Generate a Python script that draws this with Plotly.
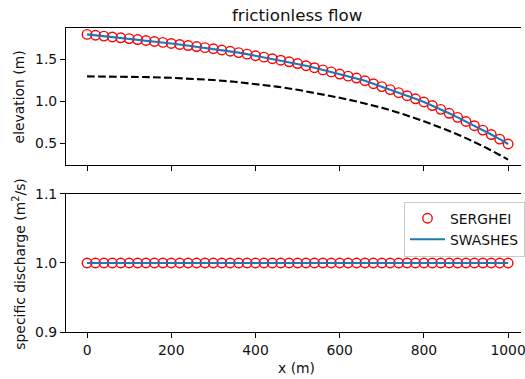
import plotly.graph_objects as go

# ---- data ----
x_pts = [0, 20, 40, 60, 80, 100, 120, 140, 160, 180, 200, 220, 240, 260, 280, 300,
         320, 340, 360, 380, 400, 420, 440, 460, 480, 500, 520, 540, 560, 580, 600,
         620, 640, 660, 680, 700, 720, 740, 760, 780, 800, 820, 840, 860, 880, 900,
         920, 940, 960, 980, 1000]

serghei_elev = [1.795, 1.785, 1.775, 1.765, 1.755, 1.745, 1.734, 1.723, 1.711, 1.700,
                1.688, 1.676, 1.663, 1.651, 1.638, 1.625, 1.610, 1.595, 1.579, 1.561,
                1.542, 1.525, 1.507, 1.489, 1.470, 1.449, 1.424, 1.400, 1.374, 1.350,
                1.325, 1.300, 1.277, 1.245, 1.210, 1.176, 1.140, 1.104, 1.068, 1.031,
                0.993, 0.951, 0.906, 0.859, 0.811, 0.762, 0.712, 0.660, 0.607, 0.553,
                0.495]
swashes_elev = serghei_elev

x_bed = [0, 50, 100, 150, 200, 250, 300, 350, 400, 450, 500, 550, 600, 650, 700,
         750, 800, 850, 900, 950, 1000]
bed = [1.297, 1.296, 1.293, 1.288, 1.280, 1.268, 1.254, 1.233, 1.208, 1.176, 1.138,
       1.094, 1.044, 0.988, 0.925, 0.850, 0.765, 0.670, 0.565, 0.445, 0.310]

serghei_q = [1.0, 1.0, 1.0, 1.0, 1.0, 1.0, 1.0, 1.0, 1.0, 1.0, 1.0, 1.0, 1.0, 1.0, 1.0,
             1.0, 1.0, 1.0, 1.0, 1.0, 1.0, 1.0, 1.0, 1.0, 1.0, 1.0, 1.0, 1.0, 1.0, 1.0,
             1.0, 1.0, 1.0, 1.0, 1.0, 1.0, 1.0, 1.0, 1.0, 1.0, 1.0, 1.0, 1.0, 1.0, 1.0,
             1.0, 1.0, 1.0, 1.0, 1.0, 1.0]
swashes_q = serghei_q

x_ticks = [0, 200, 400, 600, 800, 1000]
y_top_ticks = [0.5, 1.0, 1.5]
y_bot_ticks = [0.9, 1.0, 1.1]

FONT = "DejaVu Sans"
FS = 13.9
RED = "red"
BLUE = "#1f77b4"
TXT = "#111111"

marker_style = dict(symbol="circle-open", size=9.5, color=RED, line=dict(width=1.4, color=RED))

fig = go.Figure()

# top panel
fig.add_trace(go.Scatter(x=x_pts, y=serghei_elev, mode="markers", xaxis="x", yaxis="y",
                         marker=marker_style, showlegend=False))
fig.add_trace(go.Scatter(x=x_pts, y=swashes_elev, mode="lines", xaxis="x", yaxis="y",
                         line=dict(color=BLUE, width=2.1), showlegend=False))
fig.add_trace(go.Scatter(x=x_bed, y=bed, mode="lines", xaxis="x", yaxis="y",
                         line=dict(color="black", width=2.1, dash="7.7px,3.3px"), showlegend=False))

# bottom panel
fig.add_trace(go.Scatter(x=x_pts, y=serghei_q, mode="markers", xaxis="x2", yaxis="y2",
                         name="SERGHEI", marker=marker_style))
fig.add_trace(go.Scatter(x=x_pts, y=swashes_q, mode="lines", xaxis="x2", yaxis="y2",
                         name="SWASHES", line=dict(color=BLUE, width=2.1)))

axis_common = dict(showline=True, linecolor="black", linewidth=1.1, ticks="outside",
                   ticklen=5, tickwidth=1.1, tickcolor="black", showgrid=False, zeroline=False,
                   tickfont=dict(family=FONT, size=FS, color=TXT))

x_range = [-50, 1030.6]
fig.update_layout(
    width=525, height=379,
    margin=dict(l=66, r=0, t=28, b=47),
    paper_bgcolor="white", plot_bgcolor="white",
    font=dict(family=FONT, size=FS, color=TXT),
    xaxis=dict(domain=[0, 1], anchor="y", range=x_range, tickvals=x_ticks,
               showticklabels=False, mirror=True, **axis_common),
    yaxis=dict(domain=[0.548, 1], anchor="x", range=[0.241, 1.871], tickvals=y_top_ticks,
               ticktext=["0.5", "1.0", "1.5"], mirror=False, **axis_common),
    xaxis2=dict(domain=[0, 1], anchor="y2", range=x_range, tickvals=x_ticks,
                mirror=True, ticklabeloverflow="allow", **axis_common),
    yaxis2=dict(domain=[0, 0.454], anchor="x2", range=[0.9, 1.1], tickvals=y_bot_ticks,
                ticktext=["0.9", "1.0", "1.1"], mirror=False, **axis_common),
    legend=dict(x=0.7436, y=0.4286, xanchor="left", yanchor="top",
                bgcolor="rgba(255,255,255,0.8)", bordercolor="#cccccc", borderwidth=1,
                itemwidth=35,
                font=dict(family=FONT, size=FS, color=TXT), tracegroupgap=0),
    annotations=[
        dict(text="frictionless flow", x=0.5087, y=1.044, xref="paper", yref="paper",
             xanchor="center", yanchor="middle", showarrow=False,
             font=dict(family=FONT, size=16.7, color=TXT)),
        dict(text="x (m)", x=0.5076, y=-0.118, xref="paper", yref="paper",
             xanchor="center", yanchor="middle", showarrow=False,
             font=dict(family=FONT, size=FS, color=TXT)),
        dict(text="elevation (m)", x=-0.1024, y=0.773, xref="paper", yref="paper",
             xanchor="center", yanchor="middle", textangle=-90, showarrow=False,
             font=dict(family=FONT, size=FS, color=TXT)),
        dict(text="specific discharge (m<sup>2</sup>/s)", x=-0.1024, y=0.226, xref="paper",
             yref="paper", xanchor="center", yanchor="middle", textangle=-90, showarrow=False,
             font=dict(family=FONT, size=FS, color=TXT)),
    ],
)

fig.write_html("out.html")
